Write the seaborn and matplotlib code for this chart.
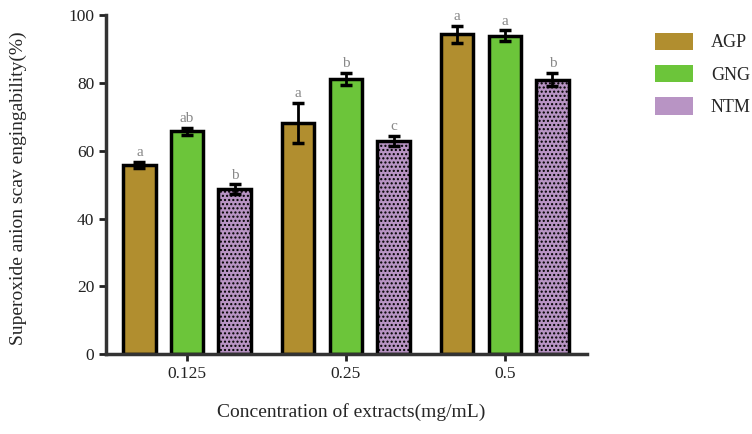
import matplotlib
matplotlib.use("Agg")
import matplotlib.pyplot as plt
from matplotlib.patches import Patch
import seaborn as sns
import pandas as pd

# data
concentrations = ["0.125", "0.25", "0.5"]
extracts = ["AGP", "GNG", "NTM"]
agp_values = [55.8, 68.2, 94.4]
gng_values = [65.8, 81.2, 94.0]
ntm_values = [48.6, 62.8, 81.0]
agp_err = [1.0, 6.0, 2.5]
gng_err = [1.0, 1.8, 1.5]
ntm_err = [1.5, 1.5, 2.0]
agp_letters = ["a", "a", "a"]
gng_letters = ["ab", "b", "a"]
ntm_letters = ["b", "c", "b"]

colors = {"AGP": "#B18E2F", "GNG": "#6CC53A", "NTM": "#B894C4"}

rows = []
for name, vals, errs, lets in [("AGP", agp_values, agp_err, agp_letters),
                               ("GNG", gng_values, gng_err, gng_letters),
                               ("NTM", ntm_values, ntm_err, ntm_letters)]:
    for c, v, e, l in zip(concentrations, vals, errs, lets):
        rows.append({"conc": c, "extract": name, "value": v, "err": e, "letter": l})
df = pd.DataFrame(rows)

sns.set_style("white")
plt.rcParams["font.family"] = ["Liberation Serif", "DejaVu Serif"]
plt.rcParams["hatch.color"] = "#7a5a86"

fig = plt.figure(figsize=(7.52, 4.34), dpi=100)
ax = fig.add_axes([0.141, 0.184, 0.64, 0.781])

sns.barplot(data=df, x="conc", y="value", hue="extract", order=concentrations,
            hue_order=extracts, palette=colors, width=0.9, gap=0.32,
            errorbar=None, edgecolor="black", linewidth=2.5, saturation=1,
            legend=False, ax=ax)

# bars come in hue order, then category order
for i, patch in enumerate(ax.patches[:len(df)]):
    ext = extracts[i // len(concentrations)]
    conc = concentrations[i % len(concentrations)]
    row = df[(df.extract == ext) & (df.conc == conc)].iloc[0]
    xc = patch.get_x() + patch.get_width() / 2
    if ext == "NTM":
        patch.set_hatch("....")
    ax.errorbar(xc, row.value, yerr=row.err, color="black", capsize=4,
                elinewidth=2, capthick=2.5, zorder=5)
    ax.text(xc, row.value + row.err + 0.8, row.letter, ha="center", va="bottom",
            color="#888888", fontsize=11)

ax.set_ylim(0, 100)
ax.set_xlim(-0.51, 2.52)
ax.set_yticks([0, 20, 40, 60, 80, 100])
ax.tick_params(axis="both", labelsize=12.5, direction="out", length=5, width=2,
               colors="#222222", left=True, bottom=True)
for lab in ax.get_xticklabels() + ax.get_yticklabels():
    lab.set_color("#222222")
for side in ["top", "right"]:
    ax.spines[side].set_visible(False)
for side in ["left", "bottom"]:
    ax.spines[side].set_linewidth(2.5)
    ax.spines[side].set_color("#333333")

ax.set_xlabel("Concentration of extracts(mg/mL)", fontsize=14)
ax.xaxis.set_label_coords(0.51, -0.145)
ax.set_ylabel("Superoxide anion scav engingability(%)", fontsize=14)
ax.yaxis.set_label_coords(-0.165, 0.49)

handles = [Patch(facecolor=colors[e], edgecolor="none",
                 hatch="...." if e == "NTM" else None) for e in extracts]
fig.legend(handles, extracts, loc="upper left", bbox_to_anchor=(0.871, 0.925),
           frameon=False, fontsize=13, handlelength=2.1, handleheight=1.1,
           labelspacing=0.75, handletextpad=1.0, borderpad=0, borderaxespad=0)

fig.savefig("out.png", dpi=100)
